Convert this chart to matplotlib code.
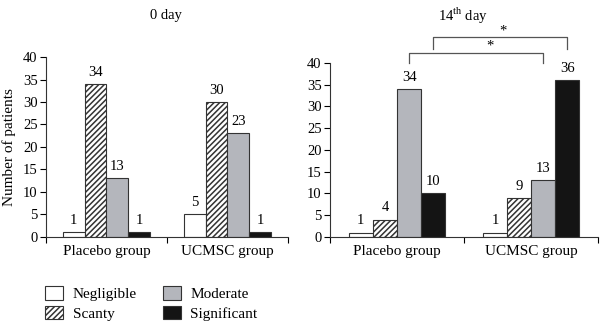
import matplotlib
matplotlib.use('Agg')
import matplotlib.pyplot as plt
from matplotlib.patches import Patch
import numpy as np

plt.rcParams['font.family'] = ['Liberation Serif', 'DejaVu Serif']
plt.rcParams['hatch.linewidth'] = 1.1

groups = ['Placebo group', 'UCMSC group']
levels = ['Negligible', 'Scanty', 'Moderate', 'Significant']
day0 = {
    'Negligible': [1, 5],
    'Scanty': [34, 30],
    'Moderate': [13, 23],
    'Significant': [1, 1],
}
day14 = {
    'Negligible': [1, 1],
    'Scanty': [4, 9],
    'Moderate': [34, 13],
    'Significant': [10, 36],
}
yticks = [0, 5, 10, 15, 20, 25, 30, 35, 40]

# fill colour and hatch for each severity level
styles = {
    'Negligible': dict(color='white', hatch=None),
    'Scanty': dict(color='white', hatch='//////'),
    'Moderate': dict(color='#b4b6bc', hatch=None),
    'Significant': dict(color='#141414', hatch=None),
}
edge = '#333333'
bar_w = 0.18
centers = np.array([0.5, 1.5])

fig = plt.figure(figsize=(6, 3.25), dpi=100)
ax1 = fig.add_axes([0.0767, 0.2708, 0.403, 0.5538])
ax2 = fig.add_axes([0.55, 0.2708, 0.447, 0.5354])


def draw_panel(ax, data):
    for i, lev in enumerate(levels):
        xs = centers + (i - 1.5) * bar_w
        st = styles[lev]
        ax.bar(xs, data[lev], width=bar_w, color=st['color'], hatch=st['hatch'],
               edgecolor=edge, linewidth=0.8)
        for x, v in zip(xs, data[lev]):
            ax.text(x, v + 1.2, str(v), ha='center', va='bottom', fontsize=10.5)
    ax.set_xlim(0, 2)
    ax.set_ylim(0, 40)
    ax.set_yticks(yticks)
    ax.set_xticks([0, 1, 2])
    ax.set_xticklabels([])
    ax.set_xticks(centers, minor=True)
    ax.set_xticklabels(groups, minor=True, fontsize=11)
    ax.tick_params(axis='x', which='minor', length=0, pad=6)
    ax.tick_params(axis='x', which='major', length=4, width=0.8, direction='out')
    ax.tick_params(axis='y', length=4, width=0.8, labelsize=10.5, pad=2)
    for s in ['top', 'right']:
        ax.spines[s].set_visible(False)
    for s in ['left', 'bottom']:
        ax.spines[s].set_linewidth(0.8)
        ax.spines[s].set_color('#333333')


draw_panel(ax1, day0)
draw_panel(ax2, day14)
ax1.set_ylabel('Number of patients', fontsize=11, labelpad=5)
fig.text(0.277, 0.952, '0 day', ha='center', va='center', fontsize=10.5)
fig.text(0.772, 0.952, '14$^{\\mathregular{th}}$ day', ha='center', va='center', fontsize=10.5)

# significance brackets between groups on day 14
br_color = '#555555'
for lev, (y0, y1), sx, sy in [('Moderate', (40.0, 42.4), 1.19, 44.0),
                              ('Significant', (43.3, 45.9), 1.29, 47.4)]:
    i = levels.index(lev)
    xa, xb = centers + (i - 1.5) * bar_w
    ax2.plot([xa, xa, xb, xb], [y0, y1, y1, y0], color=br_color, lw=0.9, clip_on=False)
    ax2.text(sx, sy, '*', ha='center', va='center', fontsize=10.5, clip_on=False)

handles = [Patch(facecolor=styles[l]['color'], hatch=styles[l]['hatch'],
                 edgecolor=edge, linewidth=0.8) for l in levels]
fig.legend(handles, levels, ncol=2, loc='upper left', bbox_to_anchor=(0.075, 0.12),
           frameon=False, fontsize=11, handlelength=1.2, handleheight=1.0,
           handletextpad=0.6, columnspacing=1.7, labelspacing=0.3, borderaxespad=0,
           borderpad=0)

fig.savefig('out.png', dpi=100, facecolor='white')
